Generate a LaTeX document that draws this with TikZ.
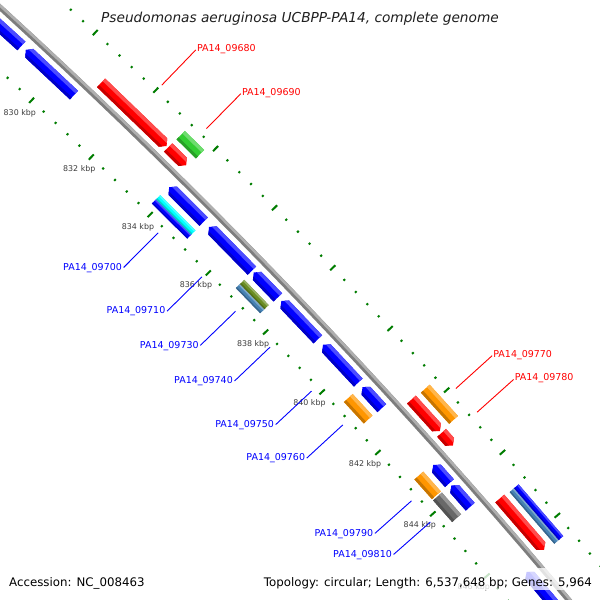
\documentclass[tikz,border=0pt]{standalone}
\usepackage{fontspec}
\setmainfont{DejaVu Sans}
\definecolor{gred}{RGB}{255,0,0}
\definecolor{gblue}{RGB}{0,0,255}
\definecolor{ggreen}{RGB}{50,205,50}
\definecolor{gorange}{RGB}{255,150,0}
\definecolor{gcyan}{RGB}{0,255,255}
\definecolor{golive}{RGB}{107,142,35}
\definecolor{gsteel}{RGB}{70,130,180}
\definecolor{ggray}{RGB}{105,105,105}
\definecolor{tickg}{RGB}{0,125,0}
\definecolor{bbdark}{RGB}{125,125,125}
\definecolor{bblight}{RGB}{175,175,175}
\definecolor{kbpcol}{RGB}{60,60,60}
% point at genome position #2 (kbp), radial offset #3 from backbone
\newcommand\gpt[3]{%
  \edef\gptx{\fpeval{round(-4185+(6207.5+(#3))*cosd(46.809-0.38286*((#2)-830)),3)}}%
  \edef\gpty{\fpeval{round(-3992+(6207.5+(#3))*sind(46.809-0.38286*((#2)-830)),3)}}%
  \coordinate (#1) at (\gptx,\gpty);}
% feature: k1 k2 d1 d2 colour type(F/R/B)
\newcommand\gfeat[6]{%
  \edef\gka{\fpeval{(#1)+0.12}}\edef\gkb{\fpeval{(#2)-0.12}}%
  \edef\gdm{\fpeval{((#3)+(#4))/2}}%
  \edef\gdl{\fpeval{(#4)-0.3*((#4)-(#3))}}%
  \edef\gdd{\fpeval{(#3)+0.25*((#4)-(#3))}}%
  \edef\gke{\fpeval{(#1)-0.3}}\edef\gkf{\fpeval{(#2)+0.3}}%
  \edef\gdo{\fpeval{(#4)+1}}\edef\gdi{\fpeval{(#3)-1}}%
  \if#6F
    \gpt{f1}{#1}{#3}\gpt{f2}{\gkb}{#3}\gpt{f3}{#2}{\gdm}\gpt{f4}{\gkb}{#4}\gpt{f5}{#1}{#4}%
  \else\if#6R
    \gpt{f1}{#1}{\gdm}\gpt{f2}{\gka}{#3}\gpt{f3}{#2}{#3}\gpt{f4}{#2}{#4}\gpt{f5}{\gka}{#4}%
  \else
    \gpt{f1}{#1}{#3}\gpt{f2}{#2}{#3}\gpt{f3}{#2}{#4}\gpt{f4}{#1}{#4}\gpt{f5}{#1}{#4}%
  \fi\fi
  \gpt{h1}{\gke}{\gdl}\gpt{h2}{\gkf}{\gdl}\gpt{h3}{\gkf}{\gdo}\gpt{h4}{\gke}{\gdo}%
  \gpt{k1}{\gke}{\gdi}\gpt{k2}{\gkf}{\gdi}\gpt{k3}{\gkf}{\gdd}\gpt{k4}{\gke}{\gdd}%
  \fill[#5] (f1)--(f2)--(f3)--(f4)--(f5)--cycle;
  \begin{scope}
    \clip (f1)--(f2)--(f3)--(f4)--(f5)--cycle;
    \fill[#5!70!white] (h1)--(h2)--(h3)--(h4)--cycle;
    \fill[#5!78!black] (k1)--(k2)--(k3)--(k4)--cycle;
  \end{scope}}
% outer label
\newcommand\glabo[3]{%
  \gpt{#1a}{#2}{54}\gpt{#1b}{#2}{103}%
  \draw[lred] (#1a)--(#1b);
  \node[lbr, anchor=base west, xshift=1pt, yshift=-1.5pt] (#1) at (#1b) {#3};}
% inner label
\newcommand\glabi[3]{%
  \gpt{#1a}{#2}{-54}\gpt{#1b}{#2}{-103}%
  \draw[lblue] (#1a)--(#1b);
  \node[lbb, anchor=base east, xshift=-1.5pt, yshift=-2.7pt] (#1) at (#1b) {#3};}
\tikzset{
  tickst/.style={line width=2pt, tickg},
  kbp/.style={font=\fontsize{7.9}{9}\selectfont, text=kbpcol, inner sep=0pt},
  lred/.style={line width=0.9pt, gred},
  lblue/.style={line width=0.9pt, gblue},
  lbr/.style={font=\fontsize{9.5}{11}\selectfont, text=gred, inner sep=0pt},
  lbb/.style={font=\fontsize{9.5}{11}\selectfont, text=gblue, inner sep=0pt},
  legend/.style={font=\fontsize{11.8}{14}\selectfont, text=black, inner sep=0pt},
  titlest/.style={font=\fontsize{13.7}{16}\selectfont\itshape, text=black!88, inner sep=0pt}
}
\begin{document}
\begin{tikzpicture}[x=1pt,y=1pt]
\useasboundingbox (0,0) rectangle (600,600);
\fill[white] (0,0) rectangle (600,600);
\clip (0,0) rectangle (600,600);
% ticks
\foreach \n in {-6,...,47}{%
  \edef\tk{\fpeval{830+0.4*\n}}%
  \ifnum\fpeval{\n-5*floor(\n/5)}=0 \def\tl{3.6}\else\def\tl{1.1}\fi
  \gpt{ta}{\tk}{\fpeval{-46.7-\tl}}\gpt{tb}{\tk}{\fpeval{-46.7+\tl}}%
  \draw[tickst] (ta)--(tb);
  \gpt{tc}{\tk}{\fpeval{46.2-\tl}}\gpt{td}{\tk}{\fpeval{46.2+\tl}}%
  \draw[tickst] (tc)--(td);}
% kbp labels
\foreach \m in {830,832,...,846}{\gpt{kl}{\m}{-64}\node[kbp] (kl\m) at (kl) {\m\ kbp};}
% backbone
\foreach \i in {0,...,24}{\gpt{bb\i}{\fpeval{826+\i}}{0}\gpt{bc\i}{\fpeval{826+\i}}{1.4}}
\draw[line width=5.5pt, bbdark] (bb0) \foreach \i in {1,...,24}{--(bb\i)};
\draw[line width=2.6pt, bblight] (bc0) \foreach \i in {1,...,24}{--(bc\i)};
% inner row 1: reverse genes
\gfeat{826.0}{828.92}{-19.8}{-8.0}{gblue}{R}
\gfeat{829.06}{830.66}{-19.8}{-8.0}{gblue}{R}
\gfeat{833.86}{835.04}{-19.8}{-8.0}{gblue}{R}
\gfeat{835.22}{836.70}{-19.8}{-8.0}{gblue}{R}
\gfeat{836.76}{837.60}{-19.8}{-8.0}{gblue}{R}
\gfeat{837.72}{839.00}{-19.8}{-8.0}{gblue}{R}
\gfeat{839.18}{840.43}{-19.8}{-8.0}{gblue}{R}
\gfeat{840.58}{841.27}{-19.8}{-8.0}{gblue}{R}
\gfeat{843.12}{843.71}{-19.8}{-8.0}{gblue}{R}
\gfeat{843.78}{844.47}{-19.8}{-8.0}{gblue}{R}
\gfeat{846.55}{849.0}{-19.8}{-8.0}{gblue}{R}
% outer row 1: forward genes
\gfeat{830.93}{833.12}{7.8}{19.6}{gred}{F}
\gfeat{833.17}{833.78}{7.8}{19.6}{gred}{F}
\gfeat{841.60}{842.62}{7.8}{19.6}{gred}{F}
\gfeat{842.68}{843.09}{7.8}{19.6}{gred}{F}
\gfeat{844.79}{846.42}{7.8}{19.6}{gred}{F}
% outer row 2
\gfeat{833.18}{833.83}{25.4}{37.2}{ggreen}{B}
\gfeat{841.63}{842.64}{25.4}{37.2}{gorange}{B}
\gfeat{844.83}{846.47}{25.4}{31.3}{gsteel}{B}
\gfeat{844.83}{846.47}{31.3}{37.2}{gblue}{B}
% inner row 2
\gfeat{833.84}{835.05}{-37.6}{-31.7}{gblue}{B}
\gfeat{833.84}{835.05}{-31.7}{-25.8}{gcyan}{B}
\gfeat{836.73}{837.58}{-37.6}{-31.7}{gsteel}{B}
\gfeat{836.73}{837.58}{-31.7}{-25.8}{golive}{B}
\gfeat{840.54}{841.25}{-37.6}{-25.8}{gorange}{B}
\gfeat{843.08}{843.72}{-37.6}{-25.8}{gorange}{B}
\gfeat{843.76}{844.46}{-37.6}{-25.8}{ggray}{B}
% labels
\glabo{l9680}{832.02}{PA14\_09680}
\glabo{l9690}{833.51}{PA14\_09690}
\glabo{l9770}{842.12}{PA14\_09770}
\glabo{l9780}{842.88}{PA14\_09780}
\glabi{l9700}{834.45}{PA14\_09700}
\glabi{l9710}{835.96}{PA14\_09710}
\glabi{l9730}{837.13}{PA14\_09730}
\glabi{l9740}{838.34}{PA14\_09740}
\glabi{l9750}{839.81}{PA14\_09750}
\glabi{l9760}{840.93}{PA14\_09760}
\glabi{l9790}{843.42}{PA14\_09790}
\glabi{l9810}{844.11}{PA14\_09810}
% legend
\fill[white, opacity=0.78] (257,10) rectangle (597,32);
\node[legend, anchor=base west] (acc) at (9,13) {Accession: NC\_008463};
\node[legend, anchor=base east] (topo) at (592,13) {Topology: circular; Length: 6,537,648 bp; Genes: 5,964};
\node[titlest, anchor=base] (ttl) at (300,577.3) {Pseudomonas aeruginosa UCBPP-PA14, complete genome};
\end{tikzpicture}
\end{document}
